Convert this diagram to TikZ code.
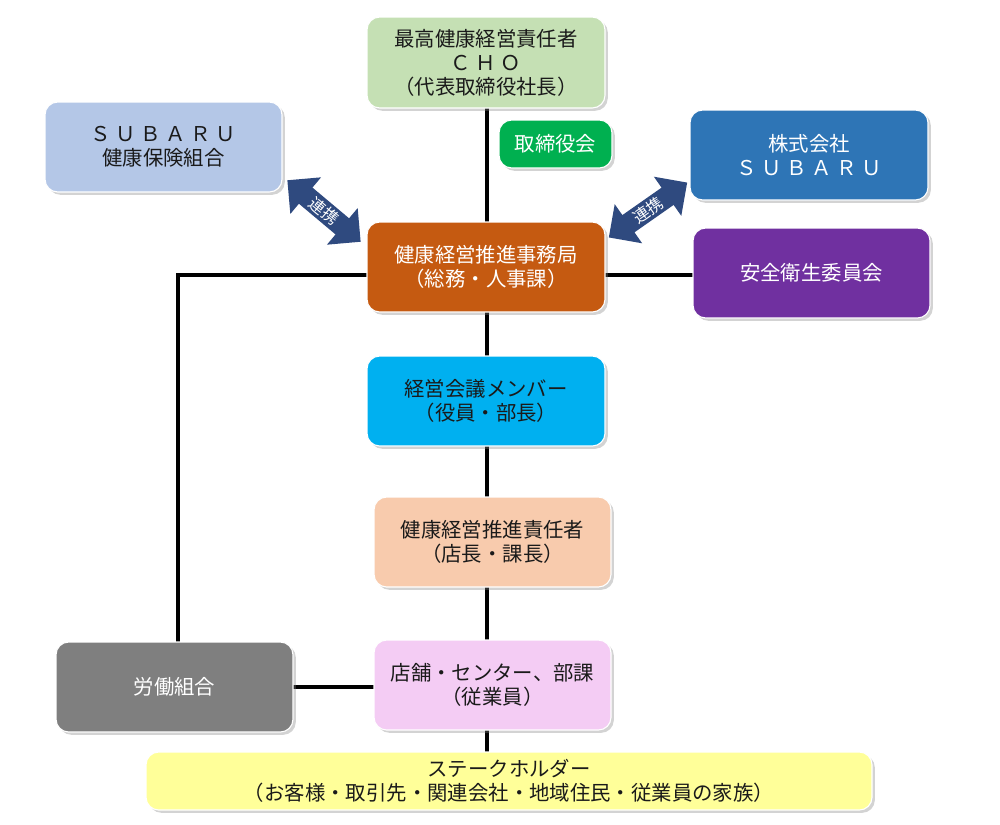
\documentclass[tikz,border=0pt]{standalone}
\usepackage{fontspec}
\setmainfont{Noto Sans CJK JP}
\usetikzlibrary{shapes.arrows,shadows,calc}
\definecolor{cgreen}{HTML}{C5E0B4}
\definecolor{cgreen2}{HTML}{00B050}
\definecolor{clblue}{HTML}{B4C7E7}
\definecolor{cblue}{HTML}{2E75B6}
\definecolor{corange}{HTML}{C55A11}
\definecolor{cpurple}{HTML}{7030A0}
\definecolor{ccyan}{HTML}{00B0F0}
\definecolor{cpeach}{HTML}{F8CBAD}
\definecolor{cgray}{HTML}{7F7F7F}
\definecolor{cpink}{HTML}{F4CCF4}
\definecolor{cyel}{HTML}{FFFF99}
\definecolor{carrow}{HTML}{2F4A7F}
\definecolor{ctext}{HTML}{1A1A1A}
\tikzset{
  bx/.style={rounded corners=9pt, draw=white, line width=0.8pt, drop shadow={opacity=0.35,shadow xshift=2pt,shadow yshift=-2pt}, align=center, font=\fontsize{14.5}{17}\selectfont, inner sep=0pt},
  conn/.style={line width=2.2pt, black},
  dbl/.style={double arrow, fill=carrow, draw=none, minimum width=34pt, double arrow head extend=7pt, minimum height=68pt, inner sep=0pt, text=white, font=\fontsize{11.5}{12}\selectfont}
}
\begin{document}
\begin{tikzpicture}[x=0.025cm,y=-0.025cm]
\useasboundingbox (0,0) rectangle (1000,824);
\newcommand{\bx}[7]{\node[bx, fill=#5, text=#6, minimum width={(#3-#1)*0.025cm}, minimum height={(#4-#2)*0.025cm}] (#7) at ({(#1+#3)/2},{(#2+#4)/2})}
\draw[conn] (487,108) -- (487,752);
\draw[conn] (367,275) -- (178,275) -- (178,642);
\draw[conn] (605,275) -- (693,275);
\draw[conn] (293,687) -- (374,687);
\bx{367}{17}{605}{108}{cgreen}{ctext}{cho} {最高健康経営責任者\\Ｃ Ｈ Ｏ\\（代表取締役社長）};
\bx{499}{120}{612}{168}{cgreen2}{white}{bod} {取締役会};
\bx{45}{102}{282}{192}{clblue}{ctext}{kenpo} {Ｓ Ｕ Ｂ Ａ Ｒ Ｕ\\健康保険組合};
\bx{690}{110}{928}{200}{cblue}{white}{subaru} {株式会社\\Ｓ Ｕ Ｂ Ａ Ｒ Ｕ};
\bx{367}{222}{605}{312}{corange}{white}{jimu} {健康経営推進事務局\\（総務・人事課）};
\bx{693}{228}{930}{318}{cpurple}{white}{anzen} {安全衛生委員会};
\bx{367}{356}{605}{446}{ccyan}{ctext}{kaigi} {経営会議メンバー\\（役員・部長）};
\bx{374}{497}{611}{587}{cpeach}{ctext}{sekinin} {健康経営推進責任者\\（店長・課長）};
\bx{56}{642}{293}{732}{cgray}{white}{roudou} {労働組合};
\bx{374}{640}{611}{730}{cpink}{ctext}{tenpo} {店舗・センター、部課\\（従業員）};
\bx{146}{752}{872}{810}{cyel}{ctext}{stake} {ステークホルダー\\（お客様・取引先・関連会社・地域住民・従業員の家族）};
\node[dbl, rotate=-40] (a1) at (324,211) {連携};
\node[dbl, rotate=35] (a2) at (648,210) {連携};
\end{tikzpicture}
\end{document}
